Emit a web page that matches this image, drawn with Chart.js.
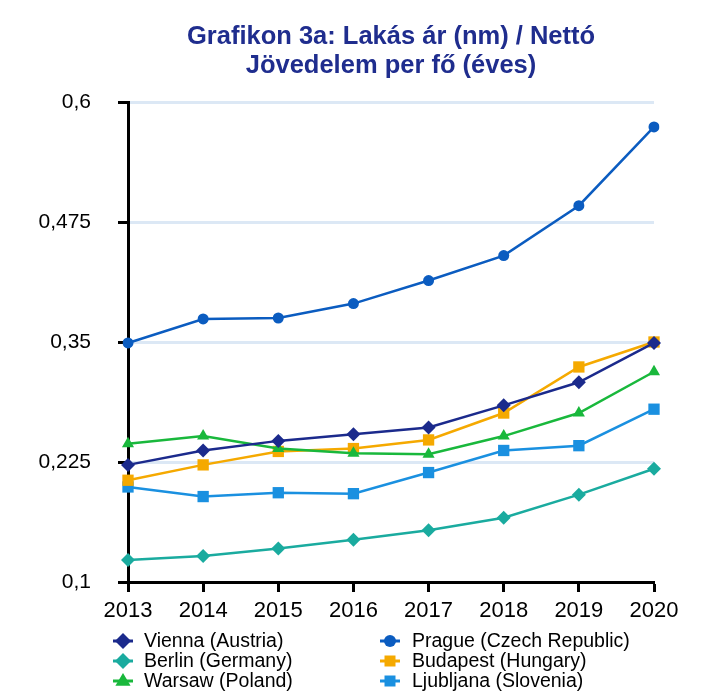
<!DOCTYPE html>
<html><head><meta charset="utf-8">
<script src="https://cdn.jsdelivr.net/npm/chart.js@4"></script>
<style>html,body{margin:0;padding:0;background:#fff;}#wrap{width:720px;height:696px;position:relative;}</style>
</head><body><div id="wrap"><canvas id="c" width="720" height="696"></canvas></div>
<script>
const years = ['2013','2014','2015','2016','2017','2018','2019','2020'];
const vienna    = [0.222, 0.237, 0.247, 0.254, 0.261, 0.284, 0.308, 0.349];
const berlin    = [0.123, 0.127, 0.135, 0.144, 0.154, 0.167, 0.191, 0.218];
const warsaw    = [0.244, 0.252, 0.239, 0.234, 0.233, 0.252, 0.276, 0.319];
const prague    = [0.349, 0.374, 0.375, 0.390, 0.414, 0.440, 0.492, 0.574];
const budapest  = [0.206, 0.222, 0.236, 0.239, 0.248, 0.276, 0.324, 0.350];
const ljubljana = [0.199, 0.189, 0.193, 0.192, 0.214, 0.237, 0.242, 0.280];
const seriesNames = ['Vienna (Austria)','Berlin (Germany)','Warsaw (Poland)','Prague (Czech Republic)','Budapest (Hungary)','Ljubljana (Slovenia)'];
const yTickLabels = ['0,1','0,225','0,35','0,475','0,6'];
const titleLines = ['Grafikon 3a: Lakás ár (nm) / Nettó','Jövedelem per fő (éves)'];

const FONT = "'Liberation Sans', Arial, sans-serif";
const colors = ['#1b2a8c','#1aab9f','#19b83c','#0b5cc0','#f5a900','#1a90e0'];
const styles = ['rectRot','rectRot','triangle','circle','rect','rect'];
const radii = [7,7,7,5.5,8,8];
const allData = [vienna, berlin, warsaw, prague, budapest, ljubljana];

const datasets = allData.map((d,i)=>({
  label: seriesNames[i], data: d,
  borderColor: colors[i], backgroundColor: colors[i],
  pointBackgroundColor: colors[i], pointBorderColor: colors[i],
  pointStyle: styles[i], pointRadius: radii[i], pointBorderWidth: 0,
  borderWidth: 2.5, tension: 0
}));

function drawMarker(ctx, style, x, y, r, color){
  ctx.fillStyle = color;
  ctx.beginPath();
  if(style==='rectRot'){ ctx.moveTo(x, y-r); ctx.lineTo(x+r, y); ctx.lineTo(x, y+r); ctx.lineTo(x-r, y); ctx.closePath(); }
  else if(style==='circle'){ ctx.arc(x, y, r, 0, Math.PI*2); }
  else if(style==='rect'){ ctx.rect(x-r, y-r, 2*r, 2*r); }
  else if(style==='triangle'){ ctx.moveTo(x, y-r); ctx.lineTo(x+r*0.95, y+r*0.6); ctx.lineTo(x-r*0.95, y+r*0.6); ctx.closePath(); }
  ctx.fill();
}

const legendPlugin = {
  id: 'gridLegend',
  afterDraw(chart){
    const ctx = chart.ctx;
    ctx.save();
    const colX = [123, 390], textX = [144, 412], rowY = [641, 661, 681];
    const order = [[0,0,0],[1,0,1],[2,0,2],[3,1,0],[4,1,1],[5,1,2]];
    const sizes = [8,8,8,6,5.5,5.5];
    ctx.font = '19.5px ' + FONT;
    ctx.textBaseline = 'middle';
    order.forEach(([i,c,r])=>{
      const x = colX[c], y = rowY[r];
      ctx.strokeStyle = colors[i]; ctx.lineWidth = 3;
      ctx.beginPath(); ctx.moveTo(x-10, y); ctx.lineTo(x+10, y); ctx.stroke();
      drawMarker(ctx, styles[i], x, y, sizes[i], colors[i]);
      ctx.fillStyle = '#000';
      ctx.fillText(seriesNames[i], textX[c], y+1);
    });
    ctx.restore();
  }
};

new Chart(document.getElementById('c'), {
  type: 'line',
  data: { labels: years, datasets },
  plugins: [legendPlugin],
  options: {
    responsive: false, animation: false, devicePixelRatio: 1,
    layout: { padding: { left: 0, right: 66, top: 0, bottom: 0 } },
    plugins: {
      legend: { display: false },
      tooltip: { enabled: false },
      title: {
        display: true, text: titleLines, color: '#1f2d8e', fullSize: false,
        font: { family: FONT, size: 25.5, weight: 'bold', lineHeight: 29/25.5 },
        padding: { top: 22, bottom: 22 }
      }
    },
    scales: {
      x: {
        type: 'category', offset: false,
        afterFit(s){ s.height = 114; },
        grid: { drawOnChartArea: false, drawTicks: true, tickLength: 10, tickColor: '#000', tickWidth: 3 },
        border: { color: '#000', width: 3 },
        ticks: { color: '#000', font: { family: FONT, size: 22 }, padding: 6, maxRotation: 0, autoSkip: false }
      },
      y: {
        min: 0.1, max: 0.6,
        afterFit(s){ s.width = 128; },
        afterBuildTicks(s){ s.ticks = yTickLabels.map((t,i)=>({ value: 0.1 + 0.125*i })); },
        grid: {
          color: (c)=> (c.index===0 ? 'rgba(0,0,0,0)' : '#dce8f5'),
          lineWidth: 3, tickLength: 10, tickColor: '#000', tickWidth: 3
        },
        border: { color: '#000', width: 3 },
        ticks: { color: '#000', font: { family: FONT, size: 21 }, padding: 27,
          callback: (v, i)=> yTickLabels[i] }
      }
    }
  }
});
</script></body></html>
